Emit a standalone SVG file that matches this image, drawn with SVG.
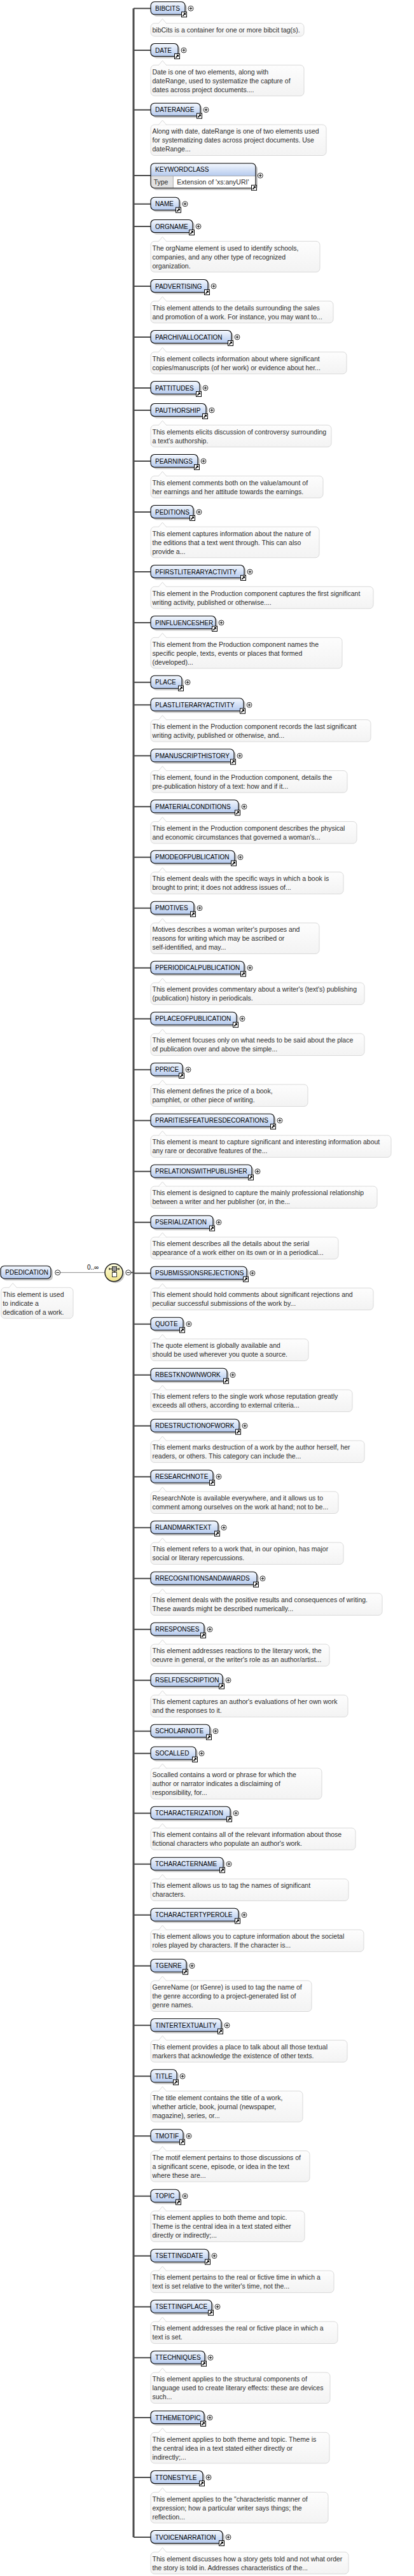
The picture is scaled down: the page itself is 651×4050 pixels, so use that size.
<svg xmlns="http://www.w3.org/2000/svg" width="651" height="4050" viewBox="0 0 651 4050">
<defs>
<linearGradient id="gEl" x1="0" y1="0" x2="0" y2="1"><stop offset="0" stop-color="#f4f8fe"/><stop offset="1" stop-color="#b5caee"/></linearGradient>
<linearGradient id="gCm" x1="0" y1="0" x2="0" y2="1"><stop offset="0" stop-color="#fdfdfd"/><stop offset="1" stop-color="#f3f3f3"/></linearGradient>
<linearGradient id="gCo" x1="0" y1="0" x2="0" y2="1"><stop offset="0" stop-color="#ffffe0"/><stop offset="1" stop-color="#f0e48a"/></linearGradient>
<g id="plus"><circle r="4" fill="#fff" stroke="#000" stroke-width="0.8"/><path d="M-2.3,0H2.3M0,-2.3V2.3" stroke="#000" stroke-width="1"/></g>
<g id="minus"><circle r="4" fill="#fff" stroke="#000" stroke-width="0.8"/><path d="M-2.3,0H2.3" stroke="#000" stroke-width="1"/></g>
<g id="lnk"><rect x="0.5" y="0.5" width="8" height="8" fill="#fff" stroke="#000"/><path d="M2.3,6.7L5.6,3.4" stroke="#000" stroke-width="1.6"/><path d="M3.4,2H7V5.6Z" fill="#000"/></g>
<path id="notch" d="M12,0.6L18.5,-7L25,0.6" fill="#fdfdfd" stroke="#d9d9d9"/>
</defs>
<style>
.sh{fill:#000;opacity:.22}
.el{fill:url(#gEl);stroke:#000;stroke-width:1.1}
.lbl{font-family:"Liberation Sans",Arial,sans-serif;font-size:10px;fill:#000}
.cm{fill:url(#gCm);stroke:#d9d9d9;stroke-width:1}
.ct{font-family:"Liberation Sans",Arial,sans-serif;font-size:10.5px;fill:#2b2b2b}
.cn{stroke:#4a4a4a;stroke-width:2;fill:none}
</style>
<rect width="651" height="4050" fill="#fff"/>

<g id="connectors">
<path d="M210,13.3V3989" stroke="#4a4a4a" stroke-width="3" fill="none"/>
<path class="cn" d="M210,13.3H237M210,79H237M210,172.7H237M210,276H237M210,320.7H237M210,356H237M210,450H237M210,530H237M210,610H237M210,645H237M210,725H237M210,805H237M210,899H237M210,979H237M210,1072.7H237M210,1108.3H237M210,1188.3H237M210,1268.3H237M210,1347.7H237M210,1427.7H237M210,1521.7H237M210,1601.7H237M210,1681.7H237M210,1761.7H237M210,1841.7H237M210,1921.7H237M210,2001.7H237M210,2081.7H237M210,2161.7H237M210,2241.7H237M210,2321.7H237M210,2401.7H237M210,2481.7H237M210,2561.7H237M210,2641.7H237M210,2721.7H237M210,2756.7H237M210,2850.7H237M210,2930.7H237M210,3010.7H237M210,3090.7H237M210,3184.3H237M210,3264.3H237M210,3358.3H237M210,3452.7H237M210,3546.7H237M210,3626.7H237M210,3706.7H237M210,3801H237M210,3895H237M210,3989H237"/>
<path d="M94.7,2000.7H165" stroke="#8a8a8a" stroke-width="1" fill="none"/>
<path class="cn" d="M205.7,2000.7H210"/>
<text class="lbl" x="137" y="1996">0..∞</text>
</g>

<g id="PDEDICATION" transform="translate(1,1990.2)"><rect class="sh" x="3" y="3" width="79" height="20" rx="6"/><rect class="el" width="79" height="20" rx="6"/><text class="lbl" x="7.3" y="14.1">PDEDICATION</text><use href="#minus" x="89.7" y="10.5"/><g transform="translate(0.7,34.1)"><rect class="cm" width="113.3" height="48.5" rx="6"/><use href="#notch"/><text class="ct"><tspan x="2.5" y="14.3">This element is used</tspan><tspan x="2.5" y="28.3">to indicate a</tspan><tspan x="2.5" y="42.3">dedication of a work.</tspan></text></g></g>

<g id="compositor"><circle cx="181.5" cy="2003.2" r="14" fill="#000" opacity=".22"/><circle cx="179" cy="2000.7" r="14" fill="url(#gCo)" stroke="#222" stroke-width="1.5"/><path d="M171.5,1995H187.5M172,1993.3V1996.7M187,1993.3V1996.7M180,1998.5V2000.5" stroke="#000" stroke-width="1" fill="none"/><rect x="176.5" y="1991.5" width="7" height="7" fill="#9a9a9a" stroke="#000" stroke-width="0.8"/><rect x="176.5" y="2000.5" width="7" height="7" fill="#fff" stroke="#000" stroke-width="0.8"/><use href="#minus" x="201.7" y="2000.7"/></g>

<g id="BIBCITS" transform="translate(237,2.8)"><rect class="sh" x="3" y="3" width="54" height="20" rx="6"/><rect class="el" width="54" height="20" rx="6"/><text class="lbl" x="7" y="14.1">BIBCITS</text><use href="#lnk" x="48" y="15.5"/><use href="#plus" x="63" y="10.5"/><g transform="translate(0,33.8)"><rect class="cm" width="241" height="20.5" rx="6"/><use href="#notch"/><text class="ct"><tspan x="2.5" y="14.3">bibCits is a container for one or more bibcit tag(s).</tspan></text></g></g>

<g id="DATE" transform="translate(237,68.5)"><rect class="sh" x="3" y="3" width="43" height="20" rx="6"/><rect class="el" width="43" height="20" rx="6"/><text class="lbl" x="7" y="14.1">DATE</text><use href="#lnk" x="37" y="15.5"/><use href="#plus" x="52" y="10.5"/><g transform="translate(0,33.8)"><rect class="cm" width="241" height="48.5" rx="6"/><use href="#notch"/><text class="ct"><tspan x="2.5" y="14.3">Date is one of two elements, along with</tspan><tspan x="2.5" y="28.3">dateRange, used to systematize the capture of</tspan><tspan x="2.5" y="42.3">dates across project documents....</tspan></text></g></g>

<g id="DATERANGE" transform="translate(237,162.2)"><rect class="sh" x="3" y="3" width="78" height="20" rx="6"/><rect class="el" width="78" height="20" rx="6"/><text class="lbl" x="7" y="14.1">DATERANGE</text><use href="#lnk" x="72" y="15.5"/><use href="#plus" x="87" y="10.5"/><g transform="translate(0,33.8)"><rect class="cm" width="276" height="48.5" rx="6"/><use href="#notch"/><text class="ct"><tspan x="2.5" y="14.3">Along with date, dateRange is one of two elements used</tspan><tspan x="2.5" y="28.3">for systematizing dates across project documents. Use</tspan><tspan x="2.5" y="42.3">dateRange...</tspan></text></g></g>

<g id="KEYWORDCLASS" transform="translate(237,256.7)"><rect class="sh" x="3" y="3" width="165" height="39" rx="6"/><rect width="165" height="39" rx="6" fill="#fff"/><path d="M0,20V6Q0,0,6,0H159Q165,0,165,6V20Z" fill="url(#gEl)"/><path d="M0,20H35.3V39H6Q0,39,0,33Z" fill="#e2e2e2"/><path d="M0,20H165M35.3,20V39" stroke="#9a9a9a" stroke-width="0.8" fill="none"/><rect width="165" height="39" rx="6" fill="none" stroke="#000" stroke-width="1.1"/><text class="lbl" x="7" y="13.6">KEYWORDCLASS</text><text class="ct" x="4.7" y="33.6">Type</text><text class="ct" x="41.3" y="33.6">Extension of 'xs:anyURI'</text><use href="#lnk" x="158" y="34"/><use href="#plus" x="172.3" y="19.3"/></g>

<g id="NAME" transform="translate(237,310.2)"><rect class="sh" x="3" y="3" width="45" height="20" rx="6"/><rect class="el" width="45" height="20" rx="6"/><text class="lbl" x="7" y="14.1">NAME</text><use href="#lnk" x="39" y="15.5"/><use href="#plus" x="54" y="10.5"/></g>

<g id="ORGNAME" transform="translate(237,345.5)"><rect class="sh" x="3" y="3" width="66" height="20" rx="6"/><rect class="el" width="66" height="20" rx="6"/><text class="lbl" x="7" y="14.1">ORGNAME</text><use href="#lnk" x="60" y="15.5"/><use href="#plus" x="75" y="10.5"/><g transform="translate(0,33.8)"><rect class="cm" width="266" height="48.5" rx="6"/><use href="#notch"/><text class="ct"><tspan x="2.5" y="14.3">The orgName element is used to identify schools,</tspan><tspan x="2.5" y="28.3">companies, and any other type of recognized</tspan><tspan x="2.5" y="42.3">organization.</tspan></text></g></g>

<g id="PADVERTISING" transform="translate(237,439.5)"><rect class="sh" x="3" y="3" width="90" height="20" rx="6"/><rect class="el" width="90" height="20" rx="6"/><text class="lbl" x="7" y="14.1">PADVERTISING</text><use href="#lnk" x="84" y="15.5"/><use href="#plus" x="99" y="10.5"/><g transform="translate(0,33.8)"><rect class="cm" width="287" height="34.5" rx="6"/><use href="#notch"/><text class="ct"><tspan x="2.5" y="14.3">This element attends to the details surrounding the sales</tspan><tspan x="2.5" y="28.3">and promotion of a work. For instance, you may want to...</tspan></text></g></g>

<g id="PARCHIVALLOCATION" transform="translate(237,519.5)"><rect class="sh" x="3" y="3" width="127" height="20" rx="6"/><rect class="el" width="127" height="20" rx="6"/><text class="lbl" x="7" y="14.1">PARCHIVALLOCATION</text><use href="#lnk" x="121" y="15.5"/><use href="#plus" x="136" y="10.5"/><g transform="translate(0,33.8)"><rect class="cm" width="308" height="34.5" rx="6"/><use href="#notch"/><text class="ct"><tspan x="2.5" y="14.3">This element collects information about where significant</tspan><tspan x="2.5" y="28.3">copies/manuscripts (of her work) or evidence about her...</tspan></text></g></g>

<g id="PATTITUDES" transform="translate(237,599.5)"><rect class="sh" x="3" y="3" width="77" height="20" rx="6"/><rect class="el" width="77" height="20" rx="6"/><text class="lbl" x="7" y="14.1">PATTITUDES</text><use href="#lnk" x="71" y="15.5"/><use href="#plus" x="86" y="10.5"/></g>

<g id="PAUTHORSHIP" transform="translate(237,634.5)"><rect class="sh" x="3" y="3" width="87" height="20" rx="6"/><rect class="el" width="87" height="20" rx="6"/><text class="lbl" x="7" y="14.1">PAUTHORSHIP</text><use href="#lnk" x="81" y="15.5"/><use href="#plus" x="96" y="10.5"/><g transform="translate(0,33.8)"><rect class="cm" width="284" height="34.5" rx="6"/><use href="#notch"/><text class="ct"><tspan x="2.5" y="14.3">This elements elicits discussion of controversy surrounding</tspan><tspan x="2.5" y="28.3">a text's authorship.</tspan></text></g></g>

<g id="PEARNINGS" transform="translate(237,714.5)"><rect class="sh" x="3" y="3" width="74" height="20" rx="6"/><rect class="el" width="74" height="20" rx="6"/><text class="lbl" x="7" y="14.1">PEARNINGS</text><use href="#lnk" x="68" y="15.5"/><use href="#plus" x="83" y="10.5"/><g transform="translate(0,33.8)"><rect class="cm" width="271" height="34.5" rx="6"/><use href="#notch"/><text class="ct"><tspan x="2.5" y="14.3">This element comments both on the value/amount of</tspan><tspan x="2.5" y="28.3">her earnings and her attitude towards the earnings.</tspan></text></g></g>

<g id="PEDITIONS" transform="translate(237,794.5)"><rect class="sh" x="3" y="3" width="67" height="20" rx="6"/><rect class="el" width="67" height="20" rx="6"/><text class="lbl" x="7" y="14.1">PEDITIONS</text><use href="#lnk" x="61" y="15.5"/><use href="#plus" x="76" y="10.5"/><g transform="translate(0,33.8)"><rect class="cm" width="265" height="48.5" rx="6"/><use href="#notch"/><text class="ct"><tspan x="2.5" y="14.3">This element captures information about the nature of</tspan><tspan x="2.5" y="28.3">the editions that a text went through. This can also</tspan><tspan x="2.5" y="42.3">provide a...</tspan></text></g></g>

<g id="PFIRSTLITERARYACTIVITY" transform="translate(237,888.5)"><rect class="sh" x="3" y="3" width="147" height="20" rx="6"/><rect class="el" width="147" height="20" rx="6"/><text class="lbl" x="7" y="14.1">PFIRSTLITERARYACTIVITY</text><use href="#lnk" x="141" y="15.5"/><use href="#plus" x="156" y="10.5"/><g transform="translate(0,33.8)"><rect class="cm" width="350" height="34.5" rx="6"/><use href="#notch"/><text class="ct"><tspan x="2.5" y="14.3">This element in the Production component captures the first significant</tspan><tspan x="2.5" y="28.3">writing activity, published or otherwise....</tspan></text></g></g>

<g id="PINFLUENCESHER" transform="translate(237,968.5)"><rect class="sh" x="3" y="3" width="102" height="20" rx="6"/><rect class="el" width="102" height="20" rx="6"/><text class="lbl" x="7" y="14.1">PINFLUENCESHER</text><use href="#lnk" x="96" y="15.5"/><use href="#plus" x="111" y="10.5"/><g transform="translate(0,33.8)"><rect class="cm" width="301" height="48.5" rx="6"/><use href="#notch"/><text class="ct"><tspan x="2.5" y="14.3">This element from the Production component names the</tspan><tspan x="2.5" y="28.3">specific people, texts, events or places that formed</tspan><tspan x="2.5" y="42.3">(developed)...</tspan></text></g></g>

<g id="PLACE" transform="translate(237,1062.2)"><rect class="sh" x="3" y="3" width="49" height="20" rx="6"/><rect class="el" width="49" height="20" rx="6"/><text class="lbl" x="7" y="14.1">PLACE</text><use href="#lnk" x="43" y="15.5"/><use href="#plus" x="58" y="10.5"/></g>

<g id="PLASTLITERARYACTIVITY" transform="translate(237,1097.8)"><rect class="sh" x="3" y="3" width="146" height="20" rx="6"/><rect class="el" width="146" height="20" rx="6"/><text class="lbl" x="7" y="14.1">PLASTLITERARYACTIVITY</text><use href="#lnk" x="140" y="15.5"/><use href="#plus" x="155" y="10.5"/><g transform="translate(0,33.8)"><rect class="cm" width="346" height="34.5" rx="6"/><use href="#notch"/><text class="ct"><tspan x="2.5" y="14.3">This element in the Production component records the last significant</tspan><tspan x="2.5" y="28.3">writing activity, published or otherwise, and...</tspan></text></g></g>

<g id="PMANUSCRIPTHISTORY" transform="translate(237,1177.8)"><rect class="sh" x="3" y="3" width="131" height="20" rx="6"/><rect class="el" width="131" height="20" rx="6"/><text class="lbl" x="7" y="14.1">PMANUSCRIPTHISTORY</text><use href="#lnk" x="125" y="15.5"/><use href="#plus" x="140" y="10.5"/><g transform="translate(0,33.8)"><rect class="cm" width="309" height="34.5" rx="6"/><use href="#notch"/><text class="ct"><tspan x="2.5" y="14.3">This element, found in the Production component, details the</tspan><tspan x="2.5" y="28.3">pre-publication history of a text: how and if it...</tspan></text></g></g>

<g id="PMATERIALCONDITIONS" transform="translate(237,1257.8)"><rect class="sh" x="3" y="3" width="138" height="20" rx="6"/><rect class="el" width="138" height="20" rx="6"/><text class="lbl" x="7" y="14.1">PMATERIALCONDITIONS</text><use href="#lnk" x="132" y="15.5"/><use href="#plus" x="147" y="10.5"/><g transform="translate(0,33.8)"><rect class="cm" width="324" height="34.5" rx="6"/><use href="#notch"/><text class="ct"><tspan x="2.5" y="14.3">This element in the Production component describes the physical</tspan><tspan x="2.5" y="28.3">and economic circumstances that governed a woman's...</tspan></text></g></g>

<g id="PMODEOFPUBLICATION" transform="translate(237,1337.2)"><rect class="sh" x="3" y="3" width="132" height="20" rx="6"/><rect class="el" width="132" height="20" rx="6"/><text class="lbl" x="7" y="14.1">PMODEOFPUBLICATION</text><use href="#lnk" x="126" y="15.5"/><use href="#plus" x="141" y="10.5"/><g transform="translate(0,33.8)"><rect class="cm" width="303" height="34.5" rx="6"/><use href="#notch"/><text class="ct"><tspan x="2.5" y="14.3">This element deals with the specific ways in which a book is</tspan><tspan x="2.5" y="28.3">brought to print; it does not address issues of...</tspan></text></g></g>

<g id="PMOTIVES" transform="translate(237,1417.2)"><rect class="sh" x="3" y="3" width="68" height="20" rx="6"/><rect class="el" width="68" height="20" rx="6"/><text class="lbl" x="7" y="14.1">PMOTIVES</text><use href="#lnk" x="62" y="15.5"/><use href="#plus" x="77" y="10.5"/><g transform="translate(0,33.8)"><rect class="cm" width="265" height="48.5" rx="6"/><use href="#notch"/><text class="ct"><tspan x="2.5" y="14.3">Motives describes a woman writer's purposes and</tspan><tspan x="2.5" y="28.3">reasons for writing which may be ascribed or</tspan><tspan x="2.5" y="42.3">self-identified, and may...</tspan></text></g></g>

<g id="PPERIODICALPUBLICATION" transform="translate(237,1511.2)"><rect class="sh" x="3" y="3" width="147" height="20" rx="6"/><rect class="el" width="147" height="20" rx="6"/><text class="lbl" x="7" y="14.1">PPERIODICALPUBLICATION</text><use href="#lnk" x="141" y="15.5"/><use href="#plus" x="156" y="10.5"/><g transform="translate(0,33.8)"><rect class="cm" width="336" height="34.5" rx="6"/><use href="#notch"/><text class="ct"><tspan x="2.5" y="14.3">This element provides commentary about a writer's (text's) publishing</tspan><tspan x="2.5" y="28.3">(publication) history in periodicals.</tspan></text></g></g>

<g id="PPLACEOFPUBLICATION" transform="translate(237,1591.2)"><rect class="sh" x="3" y="3" width="135" height="20" rx="6"/><rect class="el" width="135" height="20" rx="6"/><text class="lbl" x="7" y="14.1">PPLACEOFPUBLICATION</text><use href="#lnk" x="129" y="15.5"/><use href="#plus" x="144" y="10.5"/><g transform="translate(0,33.8)"><rect class="cm" width="336" height="34.5" rx="6"/><use href="#notch"/><text class="ct"><tspan x="2.5" y="14.3">This element focuses only on what needs to be said about the place</tspan><tspan x="2.5" y="28.3">of publication over and above the simple...</tspan></text></g></g>

<g id="PPRICE" transform="translate(237,1671.2)"><rect class="sh" x="3" y="3" width="50" height="20" rx="6"/><rect class="el" width="50" height="20" rx="6"/><text class="lbl" x="7" y="14.1">PPRICE</text><use href="#lnk" x="44" y="15.5"/><use href="#plus" x="59" y="10.5"/><g transform="translate(0,33.8)"><rect class="cm" width="247" height="34.5" rx="6"/><use href="#notch"/><text class="ct"><tspan x="2.5" y="14.3">This element defines the price of a book,</tspan><tspan x="2.5" y="28.3">pamphlet, or other piece of writing.</tspan></text></g></g>

<g id="PRARITIESFEATURESDECORATIONS" transform="translate(237,1751.2)"><rect class="sh" x="3" y="3" width="194" height="20" rx="6"/><rect class="el" width="194" height="20" rx="6"/><text class="lbl" x="7" y="14.1">PRARITIESFEATURESDECORATIONS</text><use href="#lnk" x="188" y="15.5"/><use href="#plus" x="203" y="10.5"/><g transform="translate(0,33.8)"><rect class="cm" width="378" height="34.5" rx="6"/><use href="#notch"/><text class="ct"><tspan x="2.5" y="14.3">This element is meant to capture significant and interesting information about</tspan><tspan x="2.5" y="28.3">any rare or decorative features of the...</tspan></text></g></g>

<g id="PRELATIONSWITHPUBLISHER" transform="translate(237,1831.2)"><rect class="sh" x="3" y="3" width="159" height="20" rx="6"/><rect class="el" width="159" height="20" rx="6"/><text class="lbl" x="7" y="14.1">PRELATIONSWITHPUBLISHER</text><use href="#lnk" x="153" y="15.5"/><use href="#plus" x="168" y="10.5"/><g transform="translate(0,33.8)"><rect class="cm" width="356" height="34.5" rx="6"/><use href="#notch"/><text class="ct"><tspan x="2.5" y="14.3">This element is designed to capture the mainly professional relationship</tspan><tspan x="2.5" y="28.3">between a writer and her publisher (or, in the...</tspan></text></g></g>

<g id="PSERIALIZATION" transform="translate(237,1911.2)"><rect class="sh" x="3" y="3" width="98" height="20" rx="6"/><rect class="el" width="98" height="20" rx="6"/><text class="lbl" x="7" y="14.1">PSERIALIZATION</text><use href="#lnk" x="92" y="15.5"/><use href="#plus" x="107" y="10.5"/><g transform="translate(0,33.8)"><rect class="cm" width="295" height="34.5" rx="6"/><use href="#notch"/><text class="ct"><tspan x="2.5" y="14.3">This element describes all the details about the serial</tspan><tspan x="2.5" y="28.3">appearance of a work either on its own or in a periodical...</tspan></text></g></g>

<g id="PSUBMISSIONSREJECTIONS" transform="translate(237,1991.2)"><rect class="sh" x="3" y="3" width="151" height="20" rx="6"/><rect class="el" width="151" height="20" rx="6"/><text class="lbl" x="7" y="14.1">PSUBMISSIONSREJECTIONS</text><use href="#lnk" x="145" y="15.5"/><use href="#plus" x="160" y="10.5"/><g transform="translate(0,33.8)"><rect class="cm" width="350" height="34.5" rx="6"/><use href="#notch"/><text class="ct"><tspan x="2.5" y="14.3">This element should hold comments about significant rejections and</tspan><tspan x="2.5" y="28.3">peculiar successful submissions of the work by...</tspan></text></g></g>

<g id="QUOTE" transform="translate(237,2071.2)"><rect class="sh" x="3" y="3" width="51" height="20" rx="6"/><rect class="el" width="51" height="20" rx="6"/><text class="lbl" x="7" y="14.1">QUOTE</text><use href="#lnk" x="45" y="15.5"/><use href="#plus" x="60" y="10.5"/><g transform="translate(0,33.8)"><rect class="cm" width="248" height="34.5" rx="6"/><use href="#notch"/><text class="ct"><tspan x="2.5" y="14.3">The quote element is globally available and</tspan><tspan x="2.5" y="28.3">should be used wherever you quote a source.</tspan></text></g></g>

<g id="RBESTKNOWNWORK" transform="translate(237,2151.2)"><rect class="sh" x="3" y="3" width="120" height="20" rx="6"/><rect class="el" width="120" height="20" rx="6"/><text class="lbl" x="7" y="14.1">RBESTKNOWNWORK</text><use href="#lnk" x="114" y="15.5"/><use href="#plus" x="129" y="10.5"/><g transform="translate(0,33.8)"><rect class="cm" width="317" height="34.5" rx="6"/><use href="#notch"/><text class="ct"><tspan x="2.5" y="14.3">This element refers to the single work whose reputation greatly</tspan><tspan x="2.5" y="28.3">exceeds all others, according to external criteria...</tspan></text></g></g>

<g id="RDESTRUCTIONOFWORK" transform="translate(237,2231.2)"><rect class="sh" x="3" y="3" width="139" height="20" rx="6"/><rect class="el" width="139" height="20" rx="6"/><text class="lbl" x="7" y="14.1">RDESTRUCTIONOFWORK</text><use href="#lnk" x="133" y="15.5"/><use href="#plus" x="148" y="10.5"/><g transform="translate(0,33.8)"><rect class="cm" width="336" height="34.5" rx="6"/><use href="#notch"/><text class="ct"><tspan x="2.5" y="14.3">This element marks destruction of a work by the author herself, her</tspan><tspan x="2.5" y="28.3">readers, or others. This category can include the...</tspan></text></g></g>

<g id="RESEARCHNOTE" transform="translate(237,2311.2)"><rect class="sh" x="3" y="3" width="98" height="20" rx="6"/><rect class="el" width="98" height="20" rx="6"/><text class="lbl" x="7" y="14.1">RESEARCHNOTE</text><use href="#lnk" x="92" y="15.5"/><use href="#plus" x="107" y="10.5"/><g transform="translate(0,33.8)"><rect class="cm" width="295" height="34.5" rx="6"/><use href="#notch"/><text class="ct"><tspan x="2.5" y="14.3">ResearchNote is available everywhere, and it allows us to</tspan><tspan x="2.5" y="28.3">comment among ourselves on the work at hand; not to be...</tspan></text></g></g>

<g id="RLANDMARKTEXT" transform="translate(237,2391.2)"><rect class="sh" x="3" y="3" width="106" height="20" rx="6"/><rect class="el" width="106" height="20" rx="6"/><text class="lbl" x="7" y="14.1">RLANDMARKTEXT</text><use href="#lnk" x="100" y="15.5"/><use href="#plus" x="115" y="10.5"/><g transform="translate(0,33.8)"><rect class="cm" width="303" height="34.5" rx="6"/><use href="#notch"/><text class="ct"><tspan x="2.5" y="14.3">This element refers to a work that, in our opinion, has major</tspan><tspan x="2.5" y="28.3">social or literary repercussions.</tspan></text></g></g>

<g id="RRECOGNITIONSANDAWARDS" transform="translate(237,2471.2)"><rect class="sh" x="3" y="3" width="167" height="20" rx="6"/><rect class="el" width="167" height="20" rx="6"/><text class="lbl" x="7" y="14.1">RRECOGNITIONSANDAWARDS</text><use href="#lnk" x="161" y="15.5"/><use href="#plus" x="176" y="10.5"/><g transform="translate(0,33.8)"><rect class="cm" width="364" height="34.5" rx="6"/><use href="#notch"/><text class="ct"><tspan x="2.5" y="14.3">This element deals with the positive results and consequences of writing.</tspan><tspan x="2.5" y="28.3">These awards might be described numerically...</tspan></text></g></g>

<g id="RRESPONSES" transform="translate(237,2551.2)"><rect class="sh" x="3" y="3" width="84" height="20" rx="6"/><rect class="el" width="84" height="20" rx="6"/><text class="lbl" x="7" y="14.1">RRESPONSES</text><use href="#lnk" x="78" y="15.5"/><use href="#plus" x="93" y="10.5"/><g transform="translate(0,33.8)"><rect class="cm" width="281" height="34.5" rx="6"/><use href="#notch"/><text class="ct"><tspan x="2.5" y="14.3">This element addresses reactions to the literary work, the</tspan><tspan x="2.5" y="28.3">oeuvre in general, or the writer's role as an author/artist...</tspan></text></g></g>

<g id="RSELFDESCRIPTION" transform="translate(237,2631.2)"><rect class="sh" x="3" y="3" width="113" height="20" rx="6"/><rect class="el" width="113" height="20" rx="6"/><text class="lbl" x="7" y="14.1">RSELFDESCRIPTION</text><use href="#lnk" x="107" y="15.5"/><use href="#plus" x="122" y="10.5"/><g transform="translate(0,33.8)"><rect class="cm" width="310" height="34.5" rx="6"/><use href="#notch"/><text class="ct"><tspan x="2.5" y="14.3">This element captures an author's evaluations of her own work</tspan><tspan x="2.5" y="28.3">and the responses to it.</tspan></text></g></g>

<g id="SCHOLARNOTE" transform="translate(237,2711.2)"><rect class="sh" x="3" y="3" width="93" height="20" rx="6"/><rect class="el" width="93" height="20" rx="6"/><text class="lbl" x="7" y="14.1">SCHOLARNOTE</text><use href="#lnk" x="87" y="15.5"/><use href="#plus" x="102" y="10.5"/></g>

<g id="SOCALLED" transform="translate(237,2746.2)"><rect class="sh" x="3" y="3" width="71" height="20" rx="6"/><rect class="el" width="71" height="20" rx="6"/><text class="lbl" x="7" y="14.1">SOCALLED</text><use href="#lnk" x="65" y="15.5"/><use href="#plus" x="80" y="10.5"/><g transform="translate(0,33.8)"><rect class="cm" width="269" height="48.5" rx="6"/><use href="#notch"/><text class="ct"><tspan x="2.5" y="14.3">Socalled contains a word or phrase for which the</tspan><tspan x="2.5" y="28.3">author or narrator indicates a disclaiming of</tspan><tspan x="2.5" y="42.3">responsibility, for...</tspan></text></g></g>

<g id="TCHARACTERIZATION" transform="translate(237,2840.2)"><rect class="sh" x="3" y="3" width="125" height="20" rx="6"/><rect class="el" width="125" height="20" rx="6"/><text class="lbl" x="7" y="14.1">TCHARACTERIZATION</text><use href="#lnk" x="119" y="15.5"/><use href="#plus" x="134" y="10.5"/><g transform="translate(0,33.8)"><rect class="cm" width="322" height="34.5" rx="6"/><use href="#notch"/><text class="ct"><tspan x="2.5" y="14.3">This element contains all of the relevant information about those</tspan><tspan x="2.5" y="28.3">fictional characters who populate an author's work.</tspan></text></g></g>

<g id="TCHARACTERNAME" transform="translate(237,2920.2)"><rect class="sh" x="3" y="3" width="114" height="20" rx="6"/><rect class="el" width="114" height="20" rx="6"/><text class="lbl" x="7" y="14.1">TCHARACTERNAME</text><use href="#lnk" x="108" y="15.5"/><use href="#plus" x="123" y="10.5"/><g transform="translate(0,33.8)"><rect class="cm" width="311" height="34.5" rx="6"/><use href="#notch"/><text class="ct"><tspan x="2.5" y="14.3">This element allows us to tag the names of significant</tspan><tspan x="2.5" y="28.3">characters.</tspan></text></g></g>

<g id="TCHARACTERTYPEROLE" transform="translate(237,3000.2)"><rect class="sh" x="3" y="3" width="138" height="20" rx="6"/><rect class="el" width="138" height="20" rx="6"/><text class="lbl" x="7" y="14.1">TCHARACTERTYPEROLE</text><use href="#lnk" x="132" y="15.5"/><use href="#plus" x="147" y="10.5"/><g transform="translate(0,33.8)"><rect class="cm" width="335" height="34.5" rx="6"/><use href="#notch"/><text class="ct"><tspan x="2.5" y="14.3">This element allows you to capture information about the societal</tspan><tspan x="2.5" y="28.3">roles played by characters. If the character is...</tspan></text></g></g>

<g id="TGENRE" transform="translate(237,3080.2)"><rect class="sh" x="3" y="3" width="56" height="20" rx="6"/><rect class="el" width="56" height="20" rx="6"/><text class="lbl" x="7" y="14.1">TGENRE</text><use href="#lnk" x="50" y="15.5"/><use href="#plus" x="65" y="10.5"/><g transform="translate(0,33.8)"><rect class="cm" width="253" height="48.5" rx="6"/><use href="#notch"/><text class="ct"><tspan x="2.5" y="14.3">GenreName (or tGenre) is used to tag the name of</tspan><tspan x="2.5" y="28.3">the genre according to a project-generated list of</tspan><tspan x="2.5" y="42.3">genre names.</tspan></text></g></g>

<g id="TINTERTEXTUALITY" transform="translate(237,3173.8)"><rect class="sh" x="3" y="3" width="111" height="20" rx="6"/><rect class="el" width="111" height="20" rx="6"/><text class="lbl" x="7" y="14.1">TINTERTEXTUALITY</text><use href="#lnk" x="105" y="15.5"/><use href="#plus" x="120" y="10.5"/><g transform="translate(0,33.8)"><rect class="cm" width="309" height="34.5" rx="6"/><use href="#notch"/><text class="ct"><tspan x="2.5" y="14.3">This element provides a place to talk about all those textual</tspan><tspan x="2.5" y="28.3">markers that acknowledge the existence of other texts.</tspan></text></g></g>

<g id="TITLE" transform="translate(237,3253.8)"><rect class="sh" x="3" y="3" width="41" height="20" rx="6"/><rect class="el" width="41" height="20" rx="6"/><text class="lbl" x="7" y="14.1">TITLE</text><use href="#lnk" x="35" y="15.5"/><use href="#plus" x="50" y="10.5"/><g transform="translate(0,33.8)"><rect class="cm" width="239" height="48.5" rx="6"/><use href="#notch"/><text class="ct"><tspan x="2.5" y="14.3">The title element contains the title of a work,</tspan><tspan x="2.5" y="28.3">whether article, book, journal (newspaper,</tspan><tspan x="2.5" y="42.3">magazine), series, or...</tspan></text></g></g>

<g id="TMOTIF" transform="translate(237,3347.8)"><rect class="sh" x="3" y="3" width="51" height="20" rx="6"/><rect class="el" width="51" height="20" rx="6"/><text class="lbl" x="7" y="14.1">TMOTIF</text><use href="#lnk" x="45" y="15.5"/><use href="#plus" x="60" y="10.5"/><g transform="translate(0,33.8)"><rect class="cm" width="250" height="48.5" rx="6"/><use href="#notch"/><text class="ct"><tspan x="2.5" y="14.3">The motif element pertains to those discussions of</tspan><tspan x="2.5" y="28.3">a significant scene, episode, or idea in the text</tspan><tspan x="2.5" y="42.3">where these are...</tspan></text></g></g>

<g id="TOPIC" transform="translate(237,3442.2)"><rect class="sh" x="3" y="3" width="45" height="20" rx="6"/><rect class="el" width="45" height="20" rx="6"/><text class="lbl" x="7" y="14.1">TOPIC</text><use href="#lnk" x="39" y="15.5"/><use href="#plus" x="54" y="10.5"/><g transform="translate(0,33.8)"><rect class="cm" width="242" height="48.5" rx="6"/><use href="#notch"/><text class="ct"><tspan x="2.5" y="14.3">This element applies to both theme and topic.</tspan><tspan x="2.5" y="28.3">Theme is the central idea in a text stated either</tspan><tspan x="2.5" y="42.3">directly or indirectly;...</tspan></text></g></g>

<g id="TSETTINGDATE" transform="translate(237,3536.2)"><rect class="sh" x="3" y="3" width="91" height="20" rx="6"/><rect class="el" width="91" height="20" rx="6"/><text class="lbl" x="7" y="14.1">TSETTINGDATE</text><use href="#lnk" x="85" y="15.5"/><use href="#plus" x="100" y="10.5"/><g transform="translate(0,33.8)"><rect class="cm" width="288" height="34.5" rx="6"/><use href="#notch"/><text class="ct"><tspan x="2.5" y="14.3">This element pertains to the real or fictive time in which a</tspan><tspan x="2.5" y="28.3">text is set relative to the writer's time, not the...</tspan></text></g></g>

<g id="TSETTINGPLACE" transform="translate(237,3616.2)"><rect class="sh" x="3" y="3" width="96" height="20" rx="6"/><rect class="el" width="96" height="20" rx="6"/><text class="lbl" x="7" y="14.1">TSETTINGPLACE</text><use href="#lnk" x="90" y="15.5"/><use href="#plus" x="105" y="10.5"/><g transform="translate(0,33.8)"><rect class="cm" width="294" height="34.5" rx="6"/><use href="#notch"/><text class="ct"><tspan x="2.5" y="14.3">This element addresses the real or fictive place in which a</tspan><tspan x="2.5" y="28.3">text is set.</tspan></text></g></g>

<g id="TTECHNIQUES" transform="translate(237,3696.2)"><rect class="sh" x="3" y="3" width="85" height="20" rx="6"/><rect class="el" width="85" height="20" rx="6"/><text class="lbl" x="7" y="14.1">TTECHNIQUES</text><use href="#lnk" x="79" y="15.5"/><use href="#plus" x="94" y="10.5"/><g transform="translate(0,33.8)"><rect class="cm" width="282" height="48.5" rx="6"/><use href="#notch"/><text class="ct"><tspan x="2.5" y="14.3">This element applies to the structural components of</tspan><tspan x="2.5" y="28.3">language used to create literary effects: these are devices</tspan><tspan x="2.5" y="42.3">such...</tspan></text></g></g>

<g id="TTHEMETOPIC" transform="translate(237,3790.5)"><rect class="sh" x="3" y="3" width="84" height="20" rx="6"/><rect class="el" width="84" height="20" rx="6"/><text class="lbl" x="7" y="14.1">TTHEMETOPIC</text><use href="#lnk" x="78" y="15.5"/><use href="#plus" x="93" y="10.5"/><g transform="translate(0,33.8)"><rect class="cm" width="281" height="48.5" rx="6"/><use href="#notch"/><text class="ct"><tspan x="2.5" y="14.3">This element applies to both theme and topic. Theme is</tspan><tspan x="2.5" y="28.3">the central idea in a text stated either directly or</tspan><tspan x="2.5" y="42.3">indirectly;...</tspan></text></g></g>

<g id="TTONESTYLE" transform="translate(237,3884.5)"><rect class="sh" x="3" y="3" width="82" height="20" rx="6"/><rect class="el" width="82" height="20" rx="6"/><text class="lbl" x="7" y="14.1">TTONESTYLE</text><use href="#lnk" x="76" y="15.5"/><use href="#plus" x="91" y="10.5"/><g transform="translate(0,33.8)"><rect class="cm" width="279" height="48.5" rx="6"/><use href="#notch"/><text class="ct"><tspan x="2.5" y="14.3">This element applies to the "characteristic manner of</tspan><tspan x="2.5" y="28.3">expression; how a particular writer says things; the</tspan><tspan x="2.5" y="42.3">reflection...</tspan></text></g></g>

<g id="TVOICENARRATION" transform="translate(237,3978.5)"><rect class="sh" x="3" y="3" width="113" height="20" rx="6"/><rect class="el" width="113" height="20" rx="6"/><text class="lbl" x="7" y="14.1">TVOICENARRATION</text><use href="#lnk" x="107" y="15.5"/><use href="#plus" x="122" y="10.5"/><g transform="translate(0,33.8)"><rect class="cm" width="311" height="34.5" rx="6"/><use href="#notch"/><text class="ct"><tspan x="2.5" y="14.3">This element discusses how a story gets told and not what order</tspan><tspan x="2.5" y="28.3">the story is told in. Addresses characteristics of the...</tspan></text></g></g>
</svg>
